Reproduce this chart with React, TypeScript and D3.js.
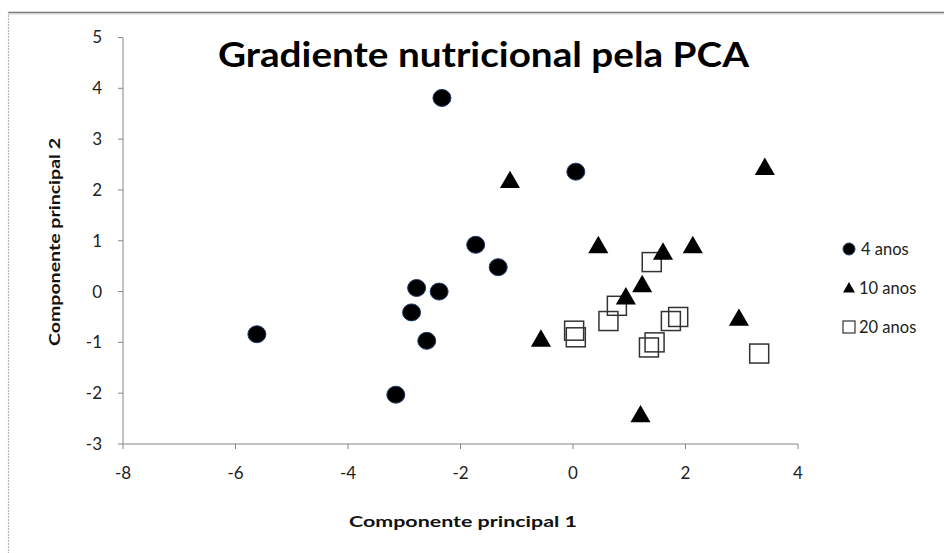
import React from "react";
import * as d3 from "d3";

const xTicks = [-8, -6, -4, -2, 0, 2, 4];
const yTicks = [-3, -2, -1, 0, 1, 2, 3, 4, 5];

const seriesNames = ["4 anos", "10 anos", "20 anos"];

const anos4X = [-2.33, 0.05, -1.73, -1.33, -2.78, -2.38, -2.87, -2.6, -3.15, -5.62];
const anos4Y = [3.81, 2.36, 0.92, 0.48, 0.07, 0.0, -0.41, -0.97, -2.03, -0.84];

const anos10X = [-1.12, 3.41, 0.45, 1.6, 2.13, 1.23, 0.94, 2.95, -0.57, 1.2];
const anos10Y = [2.15, 2.41, 0.87, 0.74, 0.87, 0.1, -0.14, -0.56, -0.97, -2.46];

const anos20X = [1.4, 0.78, 0.63, 0.02, 0.05, 1.87, 1.74, 1.45, 1.35, 3.31];
const anos20Y = [0.58, -0.28, -0.58, -0.77, -0.9, -0.5, -0.58, -1.0, -1.1, -1.22];

const FONT = "Lato, 'Open Sans', sans-serif";
const AXIS = "#868686";

export default function App() {
  const W = 944;
  const H = 553;
  const x = d3.scaleLinear().domain([-8, 4]).range([123, 798]);
  const y = d3.scaleLinear().domain([-3, 5]).range([444, 37.5]);

  const tri = d3.symbol().type(d3.symbolTriangle).size(175)();
  const triSmall = d3.symbol().type(d3.symbolTriangle).size(62)();

  const s4 = anos4X.map((v, i) => ({ x: v, y: anos4Y[i] }));
  const s10 = anos10X.map((v, i) => ({ x: v, y: anos10Y[i] }));
  const s20 = anos20X.map((v, i) => ({ x: v, y: anos20Y[i] }));

  const x0 = x.range()[0];
  const y0 = y.range()[0];

  return (
    <svg
      width={W}
      height={H}
      style={{ position: "absolute", left: 0, top: 0, background: "#fff" }}
      fontFamily={FONT}
    >
      <rect x={0} y={0} width={W} height={H} fill="#fff" />
      {/* frame */}
      <line x1={8} y1={12.5} x2={W} y2={12.5} stroke="#7a7a7a" strokeWidth={1.5} />
      <line x1={8} y1={14} x2={W} y2={14} stroke="#d0d0d0" strokeWidth={1} />
      <line x1={8.5} y1={12} x2={8.5} y2={H} stroke="#b8b8b8" strokeWidth={1.2} strokeDasharray="2,1" />

      {/* title */}
      <text
        x={218}
        y={67}
        fontSize={34}
        fontWeight="bold"
        fill="#000"
        textLength={531}
        lengthAdjust="spacingAndGlyphs"
      >
        Gradiente nutricional pela PCA
      </text>

      {/* y axis */}
      <line x1={x0} y1={y(5)} x2={x0} y2={y0} stroke={AXIS} strokeWidth={1} />
      {yTicks.map((t) => (
        <g key={"yt" + t}>
          <line x1={x0 - 5} x2={x0} y1={y(t)} y2={y(t)} stroke={AXIS} />
          <text
            x={102}
            y={y(t)}
            dy="0.35em"
            textAnchor="end"
            fontSize={17}
            fill="#222"
          >
            {t}
          </text>
        </g>
      ))}

      {/* x axis */}
      <line x1={x(-8)} y1={y0} x2={x(4)} y2={y0} stroke={AXIS} strokeWidth={1} />
      {xTicks.map((t) => (
        <g key={"xt" + t}>
          <line x1={x(t)} x2={x(t)} y1={y0} y2={y0 + 5} stroke={AXIS} />
          <text x={x(t)} y={479} textAnchor="middle" fontSize={17} fill="#222">
            {t}
          </text>
        </g>
      ))}

      {/* axis titles */}
      <text
        x={463}
        y={527}
        textAnchor="middle"
        fontSize={16}
        fontWeight="bold"
        fill="#111"
        textLength={228}
        lengthAdjust="spacingAndGlyphs"
      >
        Componente principal 1
      </text>
      <text
        transform={`translate(60, 242) rotate(-90)`}
        textAnchor="middle"
        fontSize={16}
        fontWeight="bold"
        fill="#111"
        textLength={208}
        lengthAdjust="spacingAndGlyphs"
      >
        Componente principal 2
      </text>

      {/* series 4 anos */}
      {s4.map((d, i) => (
        <ellipse
          key={"c" + i}
          cx={x(d.x)}
          cy={y(d.y)}
          rx={9}
          ry={8.5}
          fill="#000"
          stroke="#1f3a68"
          strokeWidth={1}
        />
      ))}
      {/* series 20 anos */}
      {s20.map((d, i) => (
        <rect
          key={"s" + i}
          x={x(d.x) - 9.5}
          y={y(d.y) - 9.5}
          width={19}
          height={19}
          fill="none"
          stroke="#333"
          strokeWidth={1.5}
        />
      ))}
      {/* series 10 anos */}
      {s10.map((d, i) => (
        <path
          key={"t" + i}
          d={tri}
          transform={`translate(${x(d.x)},${y(d.y)})`}
          fill="#000"
        />
      ))}

      {/* legend */}
      <g>
        <circle cx={849} cy={249} r={6} fill="#000" stroke="#1f3a68" strokeWidth={1} />
        <text x={861} y={255} fontSize={16.5} fill="#222">
          {seriesNames[0]}
        </text>
        <path d={triSmall} transform="translate(849,289)" fill="#000" />
        <text x={859} y={294} fontSize={16.5} fill="#222">
          {seriesNames[1]}
        </text>
        <rect x={843} y={321} width={12} height={12} fill="none" stroke="#333" strokeWidth={1.2} />
        <text x={859} y={333} fontSize={16.5} fill="#222">
          {seriesNames[2]}
        </text>
      </g>
    </svg>
  );
}
